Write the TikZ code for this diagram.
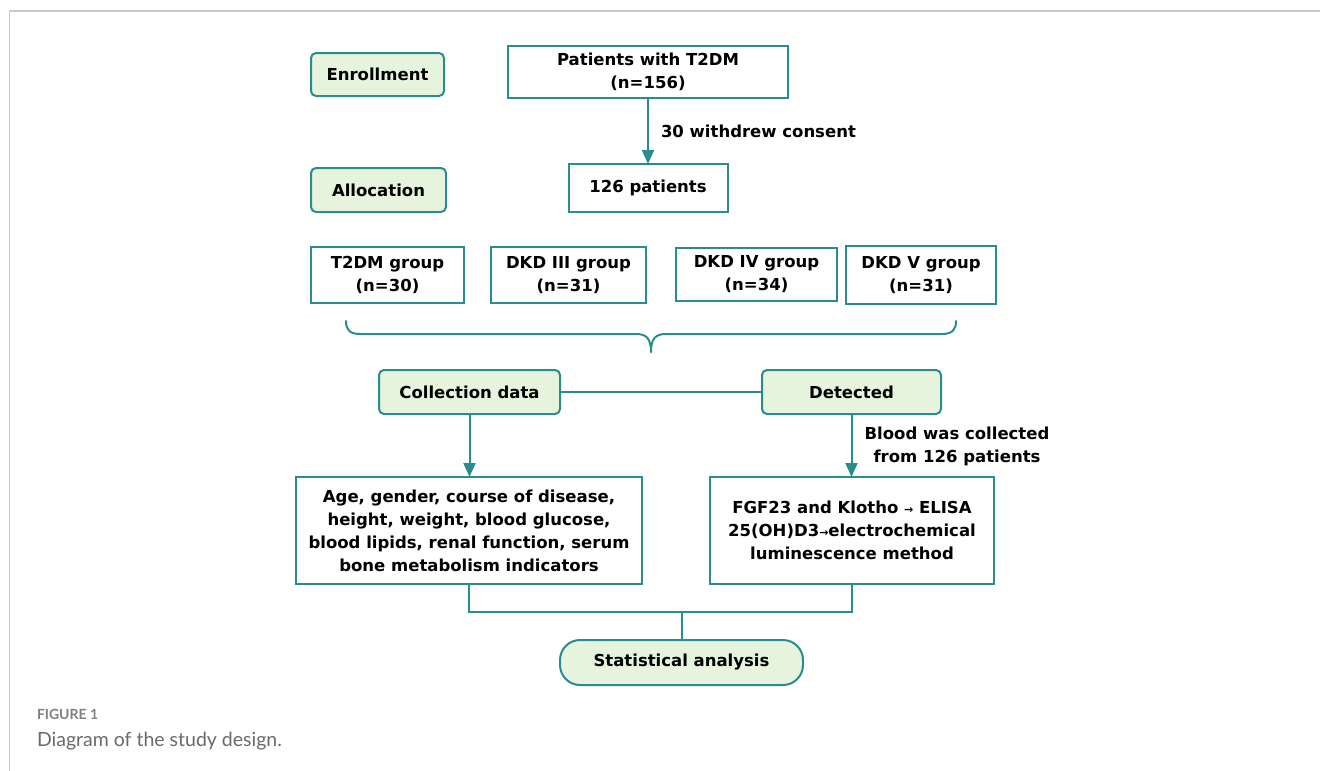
\documentclass[tikz,border=0pt]{standalone}
\usepackage{fontspec}
\setmainfont{DejaVu Sans}[BoldFont={DejaVu Sans Bold}]
\newfontfamily\capfont{Lato}[BoldFont={Lato Bold}]
\usetikzlibrary{arrows.meta}
\definecolor{tealc}{HTML}{2A8C8E}
\definecolor{greenf}{HTML}{E6F4DD}
\definecolor{framec}{HTML}{C8C8C8}
\definecolor{capc}{HTML}{6A6A6A}
\begin{document}
\begin{tikzpicture}[x=1pt,y=-1pt,
  every node/.style={inner sep=0pt, outer sep=0pt, align=center, font=\fontsize{16.5}{23}\selectfont\bfseries},
  gbox/.style={draw=tealc, line width=2pt, fill=greenf, rounded corners=5pt},
  wbox/.style={draw=tealc, line width=2pt, fill=white},
  conn/.style={draw=tealc, line width=2pt},
  arr/.style={conn, -{Triangle[width=12pt,length=14pt]}}]
\useasboundingbox (0,0) rectangle (1320,771);
% frame
\draw[framec, line width=1.2pt] (1320,11) -- (9.5,11) -- (9.5,771);
% nodes
\node[gbox, minimum width=133pt, minimum height=43pt] (enroll) at (377.5,74.5) {Enrollment};
\node[wbox, minimum width=280pt, minimum height=52pt] (pat) at (648,72) {Patients with T2DM\\(n=156)};
\node[gbox, minimum width=135pt, minimum height=44pt] (alloc) at (378.5,190) {Allocation};
\node[wbox, minimum width=159pt, minimum height=48pt] (p126) at (648,188) {126 patients};
\node[wbox, minimum width=153pt, minimum height=56pt] (g1) at (387.5,275) {T2DM group\\(n=30)};
\node[wbox, minimum width=155pt, minimum height=56pt] (g2) at (568.5,275) {DKD III group\\(n=31)};
\node[wbox, minimum width=161pt, minimum height=53pt] (g3) at (756.5,274.5) {DKD IV group\\(n=34)};
\node[wbox, minimum width=150pt, minimum height=58pt] (g4) at (921,275) {DKD V group\\(n=31)};
\node[gbox, minimum width=181pt, minimum height=44pt] (coll) at (469.5,392) {Collection data};
\node[gbox, minimum width=179pt, minimum height=44pt] (det) at (851.5,392) {Detected};
\node[wbox, minimum width=346pt, minimum height=107pt] (lbox) at (469,530.5) {Age, gender, course of disease,\\height, weight, blood glucose,\\blood lipids, renal function, serum\\bone metabolism indicators};
\node[wbox, minimum width=284pt, minimum height=107pt] (rbox) at (852,530.5) {FGF23 and Klotho {\fontsize{11}{23}\selectfont →} ELISA\\25(OH)D3{\fontsize{11}{23}\selectfont →}electrochemical\\luminescence method};
\node[gbox, rounded corners=20pt, minimum width=243pt, minimum height=45pt] (stat) at (681.5,662.5) {Statistical analysis};
% labels
\node[anchor=west] (wd) at (661,131) {30 withdrew consent};
\node (blood) at (957,446) {Blood was collected\\from 126 patients};
% connectors
\draw[arr] (pat.south) -- (pat.south |- p126.north);
\draw[conn] (coll.east) -- (det.west);
\draw[arr] (coll.south) -- (coll.south |- lbox.north);
\draw[arr] (det.south) -- (det.south |- rbox.north);
\coordinate (join) at (682,612);
\draw[conn] (lbox.south) -- (lbox.south |- join) -- (rbox.south |- join) -- (rbox.south);
\draw[conn] (join) -- (join |- stat.north);
% brace
\coordinate (btip) at (651,352);
\draw[conn, line cap=round] (346,321) .. controls (346,330) and (350,334) .. (360,334) -- (636,334) .. controls (646,334) and (651,338) .. (btip);
\draw[conn, line cap=round] (btip) .. controls (651,338) and (656,334) .. (666,334) -- (942,334) .. controls (952,334) and (956,330) .. (956,321);
% caption
\node[anchor=base west, font=\capfont\fontsize{14}{16}\selectfont\bfseries, text=capc!85] (fig) at (37,719) {FIGURE 1};
\node[anchor=base west, font=\capfont\fontsize{19.5}{22}\selectfont, text=capc] (cap) at (37,746) {Diagram of the study design.};
\end{tikzpicture}
\end{document}
